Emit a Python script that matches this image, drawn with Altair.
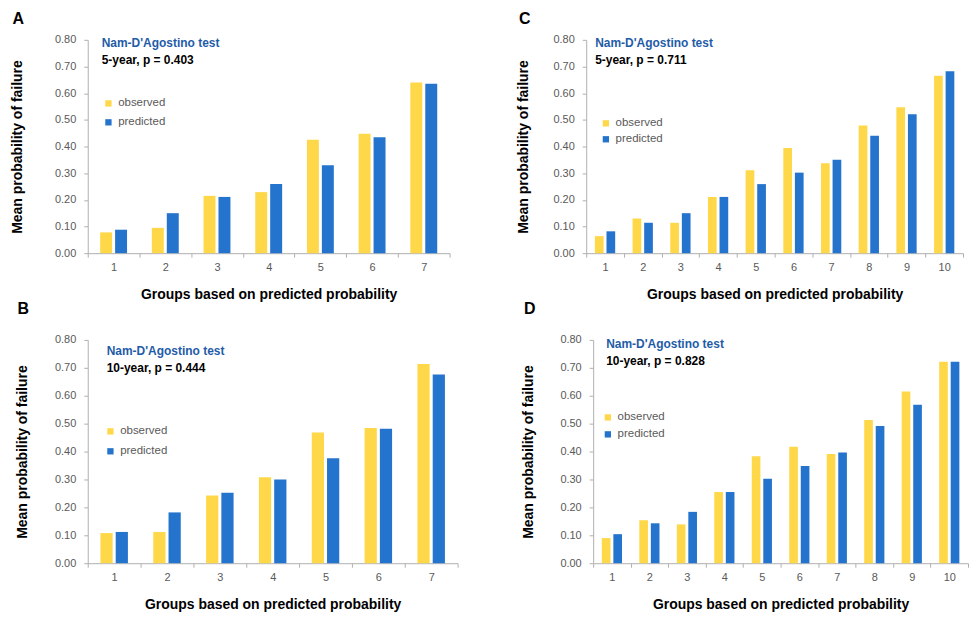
import altair as alt
import pandas as pd

series = ["observed", "predicted"]
colors = ["#FFD84A", "#2473CC"]

groups7 = [1, 2, 3, 4, 5, 6, 7]
groups10 = [1, 2, 3, 4, 5, 6, 7, 8, 9, 10]

a_obs = [0.078, 0.095, 0.215, 0.229, 0.425, 0.448, 0.640]
a_pred = [0.088, 0.150, 0.211, 0.259, 0.330, 0.435, 0.635]
b_obs = [0.108, 0.112, 0.243, 0.308, 0.468, 0.484, 0.714]
b_pred = [0.112, 0.182, 0.252, 0.300, 0.376, 0.482, 0.676]
c_obs = [0.064, 0.130, 0.114, 0.211, 0.311, 0.394, 0.337, 0.479, 0.547, 0.665]
c_pred = [0.082, 0.114, 0.150, 0.211, 0.259, 0.302, 0.350, 0.440, 0.521, 0.682]
d_obs = [0.090, 0.154, 0.139, 0.255, 0.383, 0.417, 0.391, 0.513, 0.615, 0.722]
d_pred = [0.104, 0.143, 0.184, 0.255, 0.303, 0.348, 0.397, 0.492, 0.568, 0.722]

test_name = "Nam-D'Agostino test"
a_text = "5-year, p = 0.403"
b_text = "10-year, p = 0.444"
c_text = "5-year, p = 0.711"
d_text = "10-year, p = 0.828"

y_ticks = [0, 0.1, 0.2, 0.3, 0.4, 0.5, 0.6, 0.7, 0.8]

AXIS_COLOR = "#b0b0b0"
LABEL_COLOR = "#595959"


def panel(letter, groups, obs, pred, ptext, w, h, ytp, lx, ly, rowpad,
          tx, ty, off_pi, off_po, title_offset):
    rows = []
    for g, o, p in zip(groups, obs, pred):
        rows.append({"group": g, "series": series[0], "value": o})
        rows.append({"group": g, "series": series[1], "value": p})
    df = pd.DataFrame(rows)

    bars = alt.Chart(df).mark_bar().encode(
        x=alt.X("group:O",
                scale=alt.Scale(paddingInner=0, paddingOuter=0),
                axis=alt.Axis(title="Groups based on predicted probability",
                              labelAngle=0, tickBand="extent",
                              domainColor=AXIS_COLOR, tickColor=AXIS_COLOR,
                              tickSize=4, labelPadding=4,
                              labelColor=LABEL_COLOR, labelFontSize=11,
                              titleFontSize=14, titleFontWeight="bold",
                              titleColor="#000000", titlePadding=15)),
        xOffset=alt.XOffset("series:N",
                            scale=alt.Scale(domain=series,
                                            paddingInner=off_pi,
                                            paddingOuter=off_po)),
        y=alt.Y("value:Q",
                scale=alt.Scale(domain=[0, 0.8], nice=False),
                axis=alt.Axis(title="Mean probability of failure",
                              values=y_ticks, format=".2f", grid=False,
                              domainColor=AXIS_COLOR, tickColor=AXIS_COLOR,
                              tickSize=4, labelPadding=8,
                              labelColor=LABEL_COLOR, labelFontSize=11,
                              titleFontSize=14, titleFontWeight="bold",
                              titleColor="#000000", titlePadding=ytp)),
        color=alt.Color("series:N",
                        scale=alt.Scale(domain=series, range=colors),
                        legend=alt.Legend(title=None, orient="none",
                                          legendX=lx, legendY=ly,
                                          symbolType="square",
                                          symbolSize=40, padding=0,
                                          labelFontSize=11.5,
                                          labelColor=LABEL_COLOR,
                                          labelOffset=4,
                                          rowPadding=rowpad)),
    )

    t1 = alt.Chart(pd.DataFrame({"t": [test_name]})).mark_text(
        align="left", baseline="middle", fontSize=12, fontWeight="bold",
        color="#1F5CA8"
    ).encode(x=alt.value(tx), y=alt.value(ty), text="t:N")

    t2 = alt.Chart(pd.DataFrame({"t": [ptext]})).mark_text(
        align="left", baseline="middle", fontSize=12, fontWeight="bold",
        color="#000000"
    ).encode(x=alt.value(tx), y=alt.value(ty + 17), text="t:N")

    return alt.layer(bars, t1, t2).properties(
        width=w, height=h,
        title=alt.TitleParams(letter, anchor="start", frame="bounds",
                              fontSize=16, fontWeight="bold",
                              color="#000000", offset=title_offset, dx=2),
    )


pA = panel("A", groups7, a_obs, a_pred, a_text, 363, 214, 30, 15, 58, 6,
           14, 3, 0.2, 0.83, 7)
pC = panel("C", groups10, c_obs, c_pred, c_text, 378, 214, 22, 14, 78, 3,
           9, 3, 0.25, 0.75, 7)
pB = panel("B", groups7, b_obs, b_pred, b_text, 371, 224, 25, 17, 86, 7,
           19, 11, 0.2, 0.83, 17)
pD = panel("D", groups10, d_obs, d_pred, d_text, 376, 224, 24, 9, 72, 4,
           13, 4, 0.25, 0.75, 17)

top = alt.hconcat(pA, pC, spacing=66).resolve_scale(
    color="independent", x="independent", y="independent",
    xOffset="independent").resolve_legend(color="independent")
bottom = alt.hconcat(pB, pD, spacing=63).resolve_scale(
    color="independent", x="independent", y="independent",
    xOffset="independent").resolve_legend(color="independent")

chart = alt.vconcat(top, bottom, spacing=0).resolve_scale(
    color="independent", x="independent", y="independent",
    xOffset="independent").resolve_legend(color="independent").properties(
    padding={"left": 2, "top": 2, "right": 0, "bottom": 0}
).configure(font="Liberation Sans").configure_view(stroke=None)

chart.save("out.html", embed_options={"renderer": "svg", "actions": False})
